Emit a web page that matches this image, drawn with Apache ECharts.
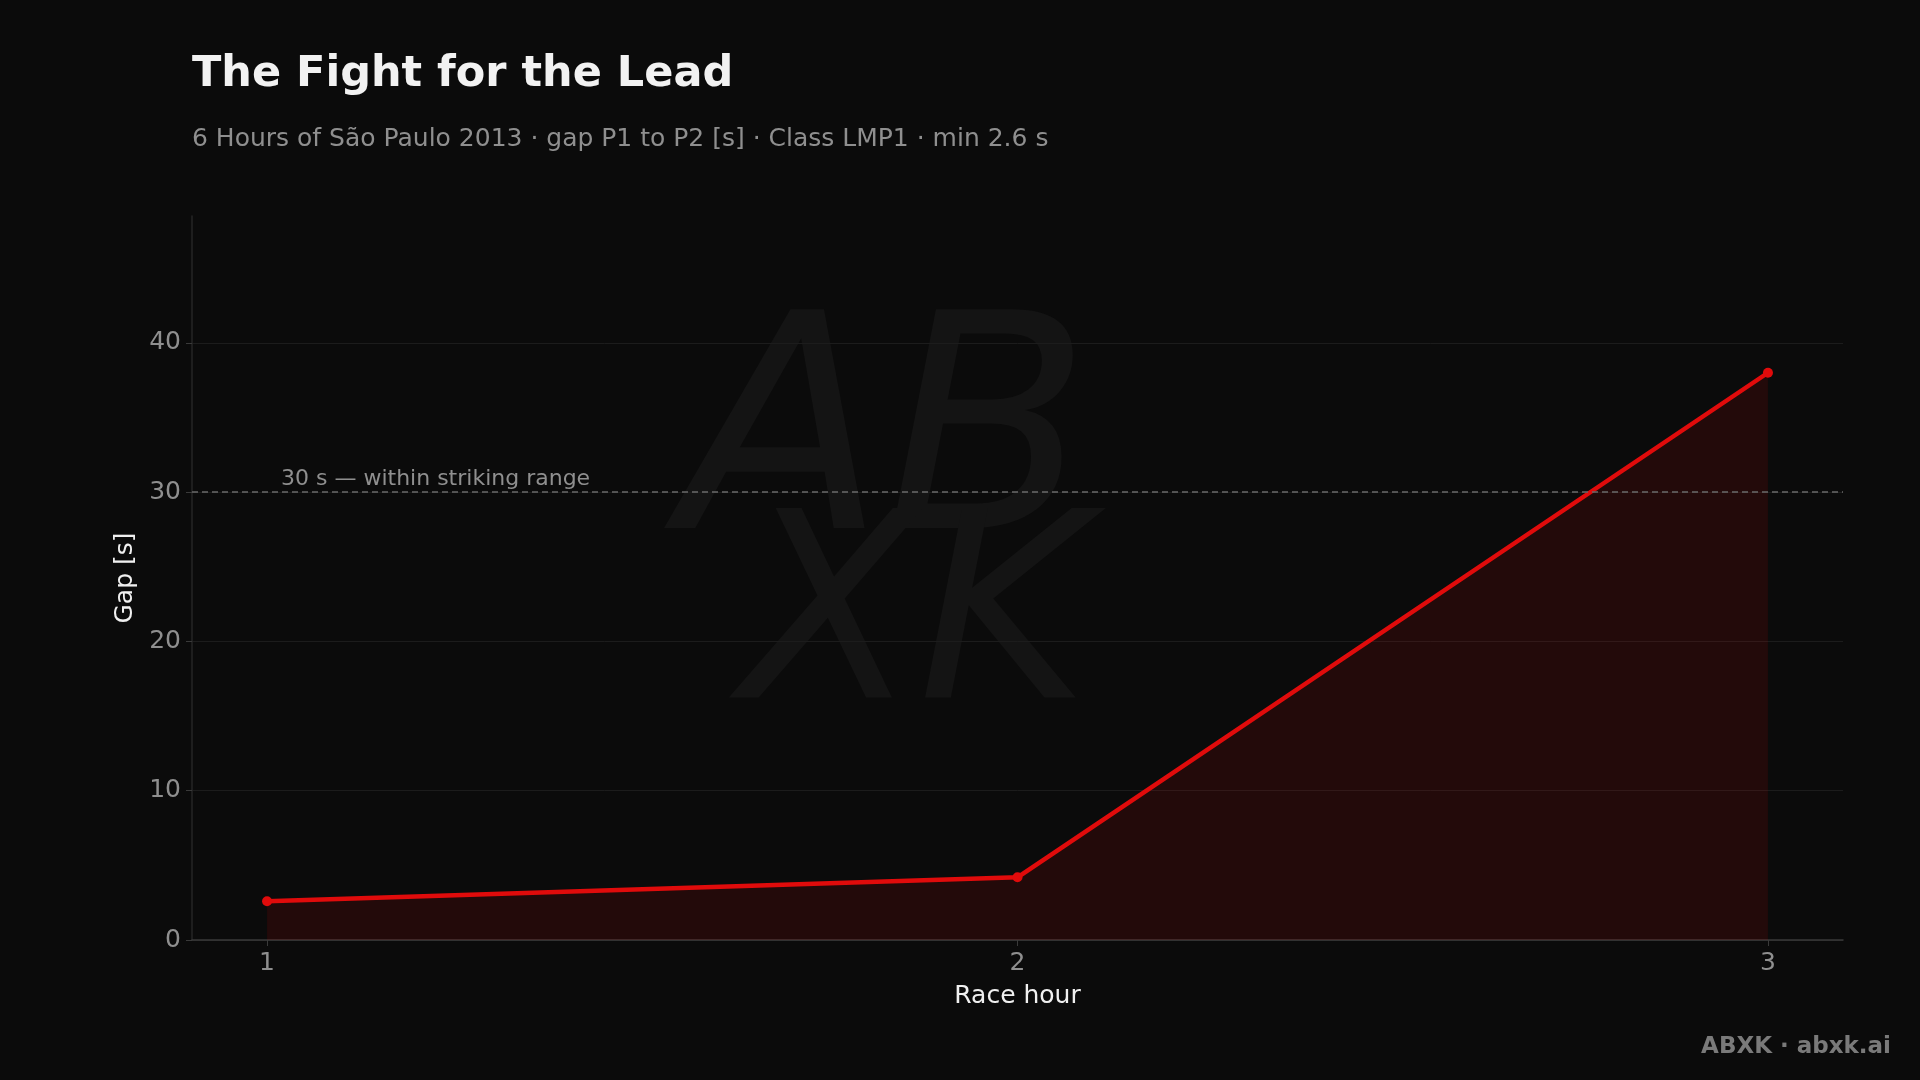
<!DOCTYPE html>
<html><head><meta charset="utf-8">
<script src="https://cdn.jsdelivr.net/npm/echarts@6/dist/echarts.min.js"></script>
<style>html,body{margin:0;padding:0;background:#0b0b0b;}#c{width:1920px;height:1080px;}</style>
</head><body><div id="c"></div>
<script>
const hours = [1, 2, 3];
const gaps = [2.6, 4.2, 38.0];
const yTicks = [0, 10, 20, 30, 40];
const thresholdValue = 30;
const thresholdLabel = '30 s — within striking range';
const titleText = 'The Fight for the Lead';
const subtitleText = '6 Hours of São Paulo 2013 · gap P1 to P2 [s] · Class LMP1 · min 2.6 s';

const chart = echarts.init(document.getElementById('c'));
const font = 'DejaVu Sans';
chart.setOption({
  backgroundColor: '#0b0b0b',
  animation: false,
  textStyle: { fontFamily: font },
  title: [
    { text: titleText, left: 187, top: 48, textStyle: { color: '#f2f2f2', fontSize: 43, fontWeight: 'bold', fontFamily: font } },
    { text: subtitleText, left: 187, top: 122, textStyle: { color: '#8f8f8f', fontSize: 25, fontWeight: 'normal', fontFamily: font } }
  ],
  graphic: [
    { type: 'text', right: 29, top: 1036, style: { text: 'ABXK · abxk.ai', fill: '#7a7a7a', font: 'bold 23px "DejaVu Sans"' } },
    { type: 'text', left: 680, top: 300, silent: true, z: -1, style: { text: 'AB', fill: '#141414', font: 'italic 300px "DejaVu Sans"' } },
    { type: 'text', left: 740, top: 500, silent: true, z: -1, style: { text: 'XK', fill: '#141414', font: 'italic 260px "DejaVu Sans"' } }
  ],
  grid: { left: 192, right: 77, top: 216, bottom: 140, containLabel: false },
  xAxis: {
    type: 'value', min: 0.9, max: 3.1, interval: 1,
    name: 'Race hour', nameLocation: 'middle', nameGap: 44,
    nameTextStyle: { color: '#f0f0f0', fontSize: 25, fontFamily: font },
    axisLine: { show: true, lineStyle: { color: '#3a3a3a', width: 1.5 } },
    axisTick: { show: true, length: 6, lineStyle: { color: '#3a3a3a' }, customValues: hours },
    axisLabel: { color: '#8f8f8f', fontSize: 25, margin: 11, fontFamily: font, customValues: hours },
    splitLine: { show: false }
  },
  yAxis: {
    type: 'value', min: 0, max: 48.5, interval: 10,
    name: 'Gap [s]', nameLocation: 'middle', nameGap: 51, nameRotate: 90,
    nameTextStyle: { color: '#f0f0f0', fontSize: 25, fontFamily: font },
    axisLine: { show: true, lineStyle: { color: '#262626', width: 1.5 } },
    axisTick: { show: true, length: 6, lineStyle: { color: '#3a3a3a' }, customValues: yTicks },
    axisLabel: { color: '#8f8f8f', fontSize: 25, margin: 11, fontFamily: font, customValues: yTicks, padding: [4, 0, 0, 0] },
    splitLine: { show: true, lineStyle: { color: '#1c1c1c', width: 1 } }
  },
  series: [{
    type: 'line',
    data: hours.map((h, i) => [h, gaps[i]]),
    lineStyle: { color: '#e00b0b', width: 4.5 },
    itemStyle: { color: '#e00b0b' },
    symbol: 'circle', symbolSize: 10, showSymbol: true,
    areaStyle: { color: 'rgba(225,10,10,0.17)' },
    markLine: {
      silent: true, symbol: 'none',
      lineStyle: { color: '#6a6a6a', type: [6, 4], width: 1.5 },
      label: { show: true, position: 'insideStartTop', formatter: thresholdLabel, color: '#8f8f8f', fontSize: 22, fontFamily: font, distance: [89, 2] },
      data: [{ yAxis: thresholdValue }]
    }
  }]
});
</script></body></html>
